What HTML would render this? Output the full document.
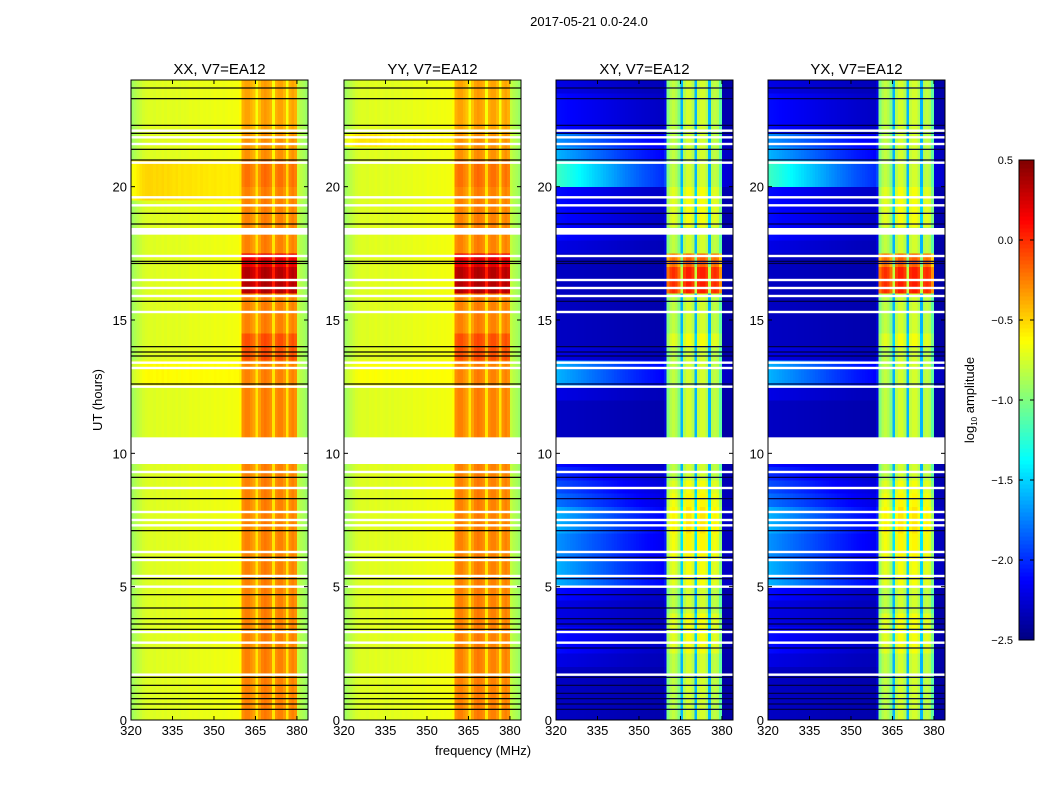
<!DOCTYPE html>
<html><head><meta charset="utf-8">
<style>
html,body{margin:0;padding:0;background:#fff;}
svg{display:block;font-family:"Liberation Sans",sans-serif;}
</style></head>
<body>
<svg id="fig" width="1050" height="800" viewBox="0 0 1050 800" xmlns="http://www.w3.org/2000/svg">
<rect width="1050" height="800" fill="#fff"/>
<text x="589" y="26" font-size="13" text-anchor="middle">2017-05-21 0.0-24.0</text>
<g id="panels"></g>
<text transform="translate(102,400) rotate(-90)" font-size="13" text-anchor="middle">UT (hours)</text>
<text x="483" y="755" font-size="13" text-anchor="middle">frequency (MHz)</text>
<g id="cbar"></g>
<text transform="translate(974,400) rotate(-90)" font-size="13" text-anchor="middle">log<tspan font-size="8" dy="3">10</tspan><tspan dy="-3"> amplitude</tspan></text>
</svg>
<script>
// ---- data ----
const panelTitles = ["XX, V7=EA12","YY, V7=EA12","XY, V7=EA12","YX, V7=EA12"];
const xTicks = [320,335,350,365,380];
const yTicks = [0,5,10,15,20];
const cbarTicks = [0.5,0.0,-0.5,-1.0,-1.5,-2.0,-2.5];
const cbarLabels = ["0.5","0.0","\u22120.5","\u22121.0","\u22121.5","\u22122.0","\u22122.5"];
// 64 channels, 1 MHz each, 320..383
const chanPar = [-0.9,-0.86,-0.82,-0.78,-0.75,-0.73,-0.72,-0.72,-0.73,-0.71,-0.72,-0.7,-0.72,-0.7,-0.71,-0.72,
 -0.7,-0.72,-0.7,-0.71,-0.7,-0.69,-0.7,-0.69,-0.7,-0.68,-0.69,-0.68,-0.69,-0.68,-0.67,-0.68,
 -0.67,-0.68,-0.67,-0.66,-0.67,-0.66,-0.66,-0.62,-0.3,-0.25,-0.25,-0.3,-0.35,-0.55,-0.35,-0.25,
 -0.22,-0.25,-0.3,-0.55,-0.3,-0.25,-0.25,-0.32,-0.55,-0.3,-0.25,-0.3,-0.8,-0.85,-0.88,-0.92];
const chanCross = [-2.4,-2.4,-2.4,-2.4,-2.4,-2.4,-2.4,-2.4,-2.4,-2.4,-2.4,-2.4,-2.4,-2.4,-2.4,-2.4,
 -2.4,-2.4,-2.4,-2.4,-2.4,-2.4,-2.4,-2.4,-2.4,-2.4,-2.4,-2.4,-2.4,-2.4,-2.4,-2.4,
 -2.4,-2.4,-2.4,-2.4,-2.4,-2.4,-2.4,-2.3,-1.0,-0.85,-0.8,-0.85,-1.0,-1.6,-0.85,-0.75,
 -0.75,-0.85,-1.6,-0.8,-0.75,-0.75,-0.85,-1.6,-0.85,-0.8,-0.85,-1.1,-2.4,-2.4,-2.4,-2.4];
const bandMask = [0,0,0,0,0,0,0,0,0,0,0,0,0,0,0,0,0,0,0,0,0,0,0,0,0,0,0,0,0,0,0,0,
 0,0,0,0,0,0,0,0,1,1,1,1,1,1,1,1,1,1,1,1,1,1,1,1,1,1,1,1,0,0,0,0];
const leftShapeGroups = [1.0,0.85,0.7,0.55,0.42,0.32,0.24,0.18,0.1];
// 48 half-hour rows (index 0 = 0.0-0.5 h)
const rowBandPar = [0,0,0,0,0,0,0,0,0,0,0,0,0,0,0,0,0,0,0,0,0,0,0,0,0,0,0,0.15,0.15,0,0,0,
 0.6,0.6,0.45,0,0,0,0,0,0.05,0.05,-0.05,-0.05,-0.1,-0.1,-0.1,-0.1];
const rowBandCross = [0,0,0,0,0,0.1,0.1,0.1,0,0,0.1,0.1,0.15,0.15,0.2,0.2,0.15,0.1,0,0,0,0,0,0,0,0,0,0,0.1,0,0,0,
 0.8,0.8,0.6,0,0,0.1,0.1,0.1,0,0,0,0,0,0,0,0];
const rowLeftXX = [0,0,0,0,0,0,0,0,0,0,0,0,0,0,0,0,0,0,0,0,0,0,0,0,0,0.12,0.12,0,0,0,0,0,
 0,0,0,0,0,0,0,0.25,0.25,0.25,0,0,0,0,0,0];
const rowLeftYY = [0,0,0,0,0,0,0,0,0,0,0,0,0,0,0,0,0,0,0,0,0,0,0,0,0,0.1,0.1,0,0,0,0,0,
 0,0,0,0,0,0,0,0,0,0,0,0.2,0,0,0,0];
const rowLeftCross = [0.1,0.1,0.1,0.1,0.2,0.3,0.3,0.2,0.2,0.3,0.8,0.8,0.7,0.7,0.8,0.8,0.6,0.5,0.4,0.3,0.15,0.1,0.1,0.1,0.2,0.8,0.8,0.2,0.1,0.1,0.1,0.1,
 0.1,0.1,0.1,0.2,0.3,0.3,0.3,0.3,1.2,1.2,0.8,0.7,0.3,0.3,0.3,0.2];
const flagWide = [[9.6,10.6],[18.2,18.45]];
const whiteLines = [22.1,21.85,21.6,20.9,19.6,19.3,17.4,16.5,16.2,15.9,15.3,13.4,13.2,12.5,9.3,8.7,7.8,7.5,7.3,6.3,6.0,5.4,5.0,3.3,2.9,1.7];
const blackLines = [23.7,23.3,22.3,22.0,21.4,21.0,19.0,18.6,17.2,17.12,15.7,14.0,13.8,13.65,12.6,9.1,8.3,7.1,6.1,5.3,4.7,4.2,3.8,3.6,3.4,2.7,1.6,1.3,1.0,0.8,0.6,0.4];

// ---- geometry ----
const NS="http://www.w3.org/2000/svg";
const panelX=[131,344,556,768], PW=177, PT=80, PB=720;
function yScale(h){return PB-(h/24)*(PB-PT);}
function xScale(f,x0){return x0+(f-320)/64*PW;}
function jet(v){
  let t=(v+2.5)/3; t=Math.max(0,Math.min(1,t));
  const f=x=>Math.max(0,Math.min(1,x));
  const r=f(Math.min(4*t-1.5,-4*t+4.5)), g=f(Math.min(4*t-0.5,-4*t+3.5)), b=f(Math.min(4*t+0.5,-4*t+2.5));
  return `rgb(${Math.round(r*255)},${Math.round(g*255)},${Math.round(b*255)})`;
}
function leftShape(c){const p=c/8, i=Math.min(7,Math.floor(p)), fr=p-i;return leftShapeGroups[i]*(1-fr)+leftShapeGroups[i+1]*fr;}
function mk(tag,attrs,parent){const e=document.createElementNS(NS,tag);for(const k in attrs)e.setAttribute(k,attrs[k]);parent.appendChild(e);return e;}
const panels=document.getElementById('panels');
panelTitles.forEach((title,p)=>{
  const x0=panelX[p];
  const g=mk('g',{},panels);
  
  
  const cross=p>=2;
  const chan=cross?chanCross:chanPar;
  const rowBand=cross?rowBandCross:rowBandPar;
  const rowLeft=cross?rowLeftCross:(p===0?rowLeftXX:rowLeftYY);
  const hm=mk('g',{'shape-rendering':'crispEdges'},g);
  
  
  for(let r=0;r<rowBand.length;r++){
    const y1=yScale((r+1)*0.5), y2=yScale(r*0.5);
    for(let c=0;c<chan.length;c++){
      const m=bandMask[c];
      const v=chan[c]+m*rowBand[r]+(1-m)*rowLeft[r]*leftShape(c);
      const xa=xScale(320+c,x0), xb=xScale(321+c,x0);
      const cell=mk('rect',{x:xa.toFixed(2),y:y1.toFixed(2),width:(xb-xa+0.4).toFixed(2),height:(y2-y1+0.4).toFixed(2),fill:jet(v)},hm);
      
      
    }
  }
  flagWide.forEach(([a,b])=>{const e=mk('rect',{x:x0,y:yScale(b),width:PW,height:yScale(a)-yScale(b),fill:'#fff'},g);
    });
  whiteLines.forEach(h=>{const e=mk('rect',{x:x0,y:yScale(h)-1.2,width:PW,height:2.4,fill:'#fff'},g);
    });
  blackLines.forEach(h=>{const e=mk('rect',{x:x0,y:yScale(h)-0.6,width:PW,height:1.2,fill:cross?'#000040':'#000'},g);
    });
  const fr=mk('rect',{x:x0,y:PT,width:PW,height:PB-PT,fill:'none',stroke:'#000','stroke-width':1},g);
  
  const t=mk('text',{x:x0+PW/2,y:74,'font-size':15,'text-anchor':'middle'},g);t.textContent=title;
  
  xTicks.forEach(f=>{const x=xScale(f,x0);
    mk('line',{x1:x,x2:x,y1:PB,y2:PB-4,stroke:'#000'},g);mk('line',{x1:x,x2:x,y1:PT,y2:PT+4,stroke:'#000'},g);
    const l=mk('text',{x:x,y:PB+15,'font-size':13,'text-anchor':'middle'},g);l.textContent=f;
    });
  yTicks.forEach(h=>{const y=yScale(h);
    mk('line',{x1:x0,x2:x0+4,y1:y,y2:y,stroke:'#000'},g);mk('line',{x1:x0+PW,x2:x0+PW-4,y1:y,y2:y,stroke:'#000'},g);
    const l=mk('text',{x:x0-4,y:y+5,'font-size':13,'text-anchor':'end'},g);l.textContent=h;
    });
});
// colorbar
const cb=document.getElementById('cbar');


const CX=1019,CW=15,CT=160,CB=640;
for(let i=0;i<120;i++){const v=-2.5+3*(i+0.5)/120;const y=CB-(i+1)*(CB-CT)/120;
  mk('rect',{x:CX,y:y,width:CW,height:(CB-CT)/120+0.5,fill:jet(v),'shape-rendering':'crispEdges'},cb);}
mk('rect',{x:CX,y:CT,width:CW,height:CB-CT,fill:'none',stroke:'#000'},cb);
cbarTicks.forEach((v,i)=>{const y=CB-(v+2.5)/3*(CB-CT);
  mk('line',{x1:CX,x2:CX+4,y1:y,y2:y,stroke:'#000'},cb);mk('line',{x1:CX+CW,x2:CX+CW-4,y1:y,y2:y,stroke:'#000'},cb);
  const l=mk('text',{x:1013,y:y+4,'font-size':11,'text-anchor':'end'},cb);l.textContent=cbarLabels[i];
  });
</script>
</body></html>
